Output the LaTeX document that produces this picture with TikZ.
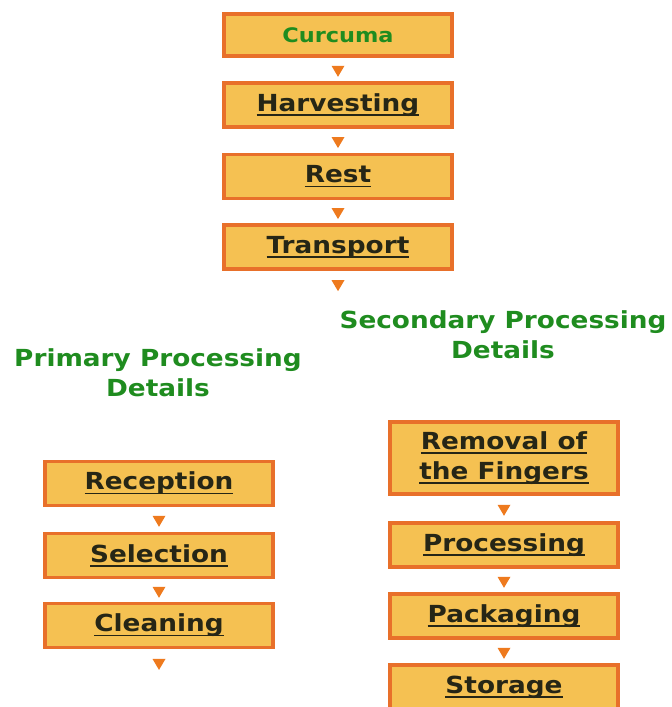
\documentclass[tikz,border=0pt]{standalone}
\usepackage{fontspec}
\setmainfont{DejaVu Sans}[FakeStretch=1.12]
\newcommand\myul[1]{\setbox0\hbox{#1}\rlap{\rule[-4.5pt]{\wd0}{1.8pt}}\box0}
\usetikzlibrary{shapes.geometric}
\definecolor{boxfill}{HTML}{F5C152}
\definecolor{boxline}{HTML}{E8702A}
\definecolor{tricol}{HTML}{EE7A1E}
\definecolor{headgreen}{HTML}{1F8C1F}
\definecolor{boxtext}{HTML}{262616}
\tikzset{
  stepbox/.style={draw=boxline, line width=3.5pt, fill=boxfill, minimum width=228pt,
    minimum height=44pt, inner sep=0pt, align=center, text=boxtext,
    font=\fontsize{23.5}{30}\selectfont\bfseries},
  tri/.style={isosceles triangle, isosceles triangle stretches, shape border rotate=270,
    fill=tricol, draw=none, minimum width=13pt, minimum height=11pt, inner sep=0pt},
  head/.style={text=headgreen, align=center, font=\fontsize{23.5}{30}\selectfont\bfseries},
}
\begin{document}
\begin{tikzpicture}[x=1pt,y=-1pt]
\useasboundingbox (0,0) rectangle (672,707);
% main column
\node[stepbox, minimum height=42pt, text=headgreen, font=\fontsize{20}{24}\selectfont\bfseries] (cur) at (338,35) {Curcuma};
\node[stepbox] (har) at (338,105) {\myul{Harvesting}};
\node[stepbox] (rest) at (338,176.5) {\myul{Rest}};
\node[stepbox] (tra) at (338,247) {\myul{Transport}};
\coordinate (traend) at (338,297);
\path (cur) -- node[tri] (t1) {} (har);
\path (har) -- node[tri] (t2) {} (rest);
\path (rest) -- node[tri] (t3) {} (tra);
\path (tra.south) -- node[tri] (t4) {} (traend);
% headings
\node[head] (prim) at (158,373) {Primary Processing\\Details};
\node[head] (sec) at (503,335) {Secondary Processing\\Details};
% primary column
\node[stepbox] (rec) at (159,483.5) {\myul{Reception}};
\node[stepbox] (sel) at (159,555.5) {\myul{Selection}};
\node[stepbox] (cle) at (159,625.5) {\myul{Cleaning}};
\coordinate (cleend) at (159,676);
\path (rec) -- node[tri] (t5) {} (sel);
\path (sel) -- node[tri] (t6) {} (cle);
\path (cle.south) -- node[tri] (t7) {} (cleend);
% secondary column
\node[stepbox, minimum height=72pt] (rem) at (504,458) {\myul{Removal of}\\\myul{the Fingers}};
\node[stepbox] (pro) at (504,545) {\myul{Processing}};
\node[stepbox] (pac) at (504,616) {\myul{Packaging}};
\node[stepbox] (sto) at (504,687) {\myul{Storage}};
\path (rem) -- node[tri] (t8) {} (pro);
\path (pro) -- node[tri] (t9) {} (pac);
\path (pac) -- node[tri] (t10) {} (sto);
\end{tikzpicture}
\end{document}
